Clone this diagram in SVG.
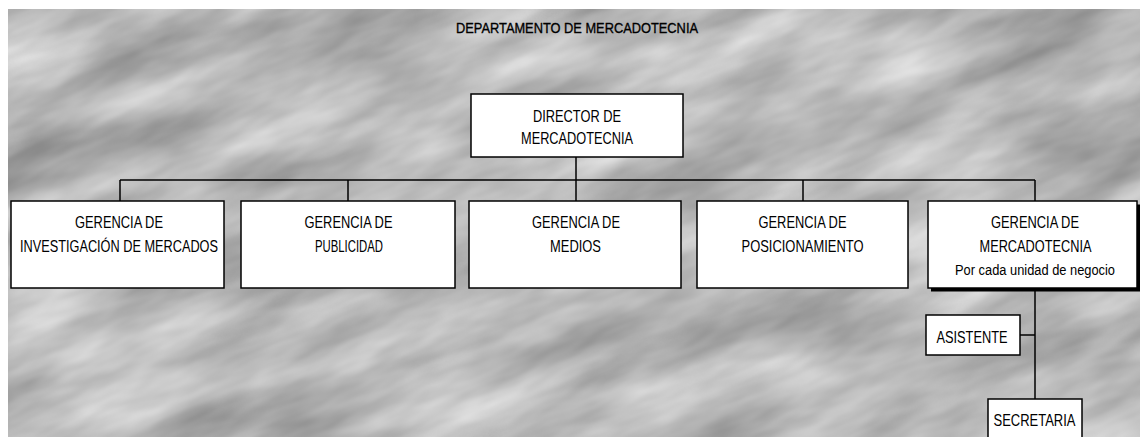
<svg xmlns="http://www.w3.org/2000/svg" width="1140" height="437" viewBox="0 0 1140 437">
  <defs>
    <filter id="tex" x="0" y="0" width="100%" height="100%" filterUnits="objectBoundingBox" color-interpolation-filters="sRGB">
      <feTurbulence type="fractalNoise" baseFrequency="0.006 0.02" numOctaves="4" seed="7" result="n"/>
      <feColorMatrix in="n" type="matrix" values="0.5 0 0 0 0.47  0.5 0 0 0 0.47  0.5 0 0 0 0.47  0 0 0 0 1"/>
    </filter>
    <clipPath id="bgclip">
      <rect x="8" y="9" width="1132" height="428"/>
    </clipPath>
    <style>
      .box { fill: #ffffff; stroke: #000000; stroke-width: 1.5; }
      .conn { stroke: #000000; stroke-width: 1.5; fill: none; }
      .shadow { fill: #000000; }
      .t { font-family: "Liberation Sans Narrow", "Liberation Sans", Arial, sans-serif; font-size: 16.5px; fill: #000000; text-anchor: middle; }
      .small { font-size: 15.5px; }
      .title { font-family: "Liberation Sans Narrow", "Liberation Sans", Arial, sans-serif; font-size: 15.5px; fill: #000000; text-anchor: middle; stroke: #000; stroke-width: 0.35; }
    </style>
  </defs>

  <rect x="0" y="0" width="1140" height="437" fill="#ffffff"/>
  <g id="background" clip-path="url(#bgclip)">
    <rect x="-300" y="-400" width="1740" height="1240" fill="#b8b8b8" filter="url(#tex)" transform="rotate(-22 570 220)"/>
  </g>

  <text class="title" x="577" y="33" textLength="242" lengthAdjust="spacingAndGlyphs">DEPARTAMENTO DE MERCADOTECNIA</text>

  <g id="connectors">
    <line class="conn" x1="576" y1="157" x2="576" y2="180"/>
    <line class="conn" x1="120" y1="180" x2="1035" y2="180"/>
    <line class="conn" x1="120" y1="180" x2="120" y2="201"/>
    <line class="conn" x1="348" y1="180" x2="348" y2="201"/>
    <line class="conn" x1="576" y1="180" x2="576" y2="201"/>
    <line class="conn" x1="803" y1="180" x2="803" y2="201"/>
    <line class="conn" x1="1035" y1="180" x2="1035" y2="201"/>
    <line class="conn" x1="1035" y1="290" x2="1035" y2="399"/>
    <line class="conn" x1="1020" y1="335" x2="1035" y2="335"/>
  </g>

  <g id="director">
    <rect class="box" x="471" y="94" width="212" height="63"/>
    <text class="t" x="577" y="122" textLength="88" lengthAdjust="spacingAndGlyphs">DIRECTOR DE</text>
    <text class="t" x="577" y="144" textLength="112" lengthAdjust="spacingAndGlyphs">MERCADOTECNIA</text>
  </g>

  <g id="ger-investigacion">
    <rect class="box" x="11" y="201" width="213" height="87"/>
    <text class="t" x="119" y="228" textLength="88" lengthAdjust="spacingAndGlyphs">GERENCIA DE</text>
    <text class="t" x="119" y="251.5" textLength="198" lengthAdjust="spacingAndGlyphs">INVESTIGACIÓN DE MERCADOS</text>
  </g>

  <g id="ger-publicidad">
    <rect class="box" x="241" y="201" width="214" height="87"/>
    <text class="t" x="348.5" y="228" textLength="88" lengthAdjust="spacingAndGlyphs">GERENCIA DE</text>
    <text class="t" x="349" y="251.5" textLength="68" lengthAdjust="spacingAndGlyphs">PUBLICIDAD</text>
  </g>

  <g id="ger-medios">
    <rect class="box" x="469" y="201" width="212" height="87"/>
    <text class="t" x="576" y="228" textLength="88" lengthAdjust="spacingAndGlyphs">GERENCIA DE</text>
    <text class="t" x="575.5" y="251.5" textLength="51" lengthAdjust="spacingAndGlyphs">MEDIOS</text>
  </g>

  <g id="ger-posicionamiento">
    <rect class="box" x="697" y="201" width="211" height="87"/>
    <text class="t" x="802.5" y="228" textLength="88" lengthAdjust="spacingAndGlyphs">GERENCIA DE</text>
    <text class="t" x="802.5" y="251.5" textLength="122" lengthAdjust="spacingAndGlyphs">POSICIONAMIENTO</text>
  </g>

  <g id="ger-mercadotecnia">
    <rect class="shadow" x="931" y="288" width="209" height="3.5"/>
    <rect class="shadow" x="1137" y="204.5" width="3" height="86.5"/>
    <rect class="box" x="928" y="201" width="209" height="87"/>
    <text class="t" x="1035" y="228" textLength="88" lengthAdjust="spacingAndGlyphs">GERENCIA DE</text>
    <text class="t" x="1035.5" y="251.5" textLength="112" lengthAdjust="spacingAndGlyphs">MERCADOTECNIA</text>
    <text class="t small" x="1035" y="275" textLength="160" lengthAdjust="spacingAndGlyphs">Por cada unidad de negocio</text>
  </g>

  <g id="asistente">
    <rect class="box" x="926" y="315" width="94" height="40"/>
    <text class="t" x="972" y="342.5" textLength="71" lengthAdjust="spacingAndGlyphs">ASISTENTE</text>
  </g>

  <g id="secretaria">
    <rect class="box" x="988" y="399" width="94" height="50"/>
    <text class="t" x="1034.5" y="426" textLength="82" lengthAdjust="spacingAndGlyphs">SECRETARIA</text>
  </g>
</svg>
